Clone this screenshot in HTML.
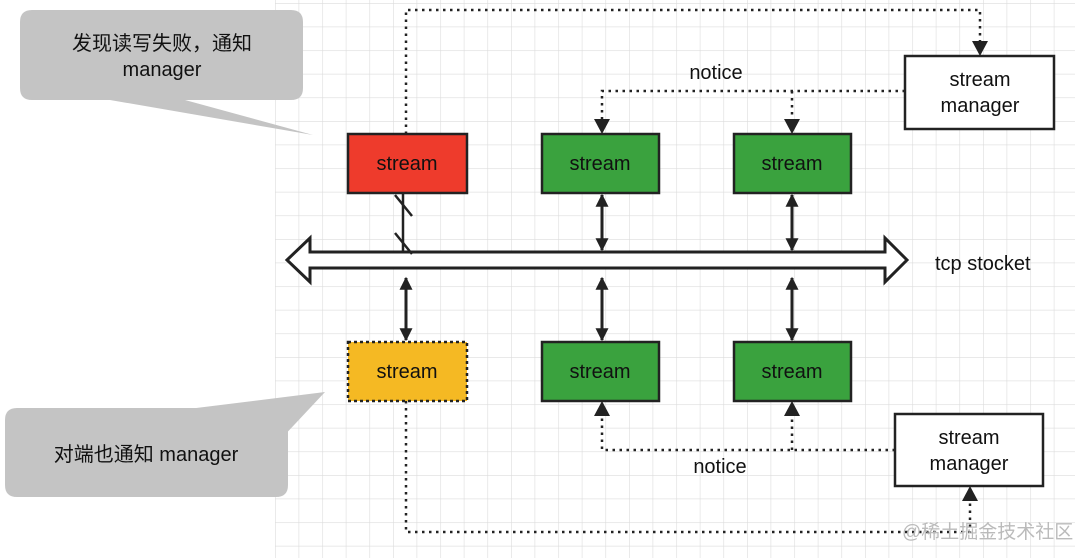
<!DOCTYPE html>
<html><head><meta charset="utf-8"><style>
html,body{margin:0;padding:0;background:#fff;}
svg{display:block}
text{font-family:"Liberation Sans","Noto Sans CJK SC",sans-serif;}
</style></head><body>
<svg width="1080" height="558" viewBox="0 0 1080 558" xmlns="http://www.w3.org/2000/svg">
<defs>
<pattern id="g" x="275" y="3" width="23.6" height="23.6" patternUnits="userSpaceOnUse">
<path d="M0 0H23.6M0 0V23.6" stroke="#dcdcdc" stroke-width="1.2" fill="none"/>
</pattern>
<marker id="a" viewBox="0 0 10 10" refX="9" refY="5" markerWidth="15" markerHeight="13" markerUnits="userSpaceOnUse" orient="auto-start-reverse">
<path d="M0 0L10 5L0 10z" fill="#222"/></marker>
</defs>
<rect x="275" y="0" width="800" height="558" fill="url(#g)"/>

<path d="M32 10H291Q303 10 303 22V88Q303 100 291 100H185L313 135L110 100H32Q20 100 20 88V22Q20 10 32 10Z" fill="#c4c4c4"/>
<text x="162" y="50" font-size="20" text-anchor="middle" fill="#111">发现读写失败，通知</text>
<text x="162" y="76" font-size="20" text-anchor="middle" fill="#111">manager</text>
<path d="M17 408H276Q288 408 288 420V485Q288 497 276 497H17Q5 497 5 485V420Q5 408 17 408ZM180 410L325 392L280 440Z" fill="#c4c4c4"/>
<text x="146" y="461" font-size="20" text-anchor="middle" fill="#111">对端也通知 manager</text>

<g stroke="#222" stroke-width="2.5" fill="none" stroke-dasharray="2.5 4.5">
<path d="M406 134V10H980V50"/>
<path d="M905 91H602V128"/>
<path d="M792 91V128"/>
<path d="M895 450H602V407"/>
<path d="M792 450V407"/>
<path d="M406 401V532H970V492"/>
</g>
<g fill="#222">
<path d="M972 41L988 41L980 56Z"/>
<path d="M594 119L610 119L602 134Z"/>
<path d="M784 119L800 119L792 134Z"/>
<path d="M594 416L610 416L602 401Z"/>
<path d="M784 416L800 416L792 401Z"/>
<path d="M962 501L978 501L970 486Z"/>
</g>

<path d="M287 260L310 238V252H885V238L907 260L885 282V268H310V282Z" fill="#fff" stroke="#222" stroke-width="3" stroke-linejoin="miter"/>
<text x="935" y="270" font-size="20" fill="#111">tcp stocket</text>

<g stroke="#222" stroke-width="3" marker-start="url(#a)" marker-end="url(#a)">
<line x1="602" y1="195" x2="602" y2="250"/>
<line x1="792" y1="195" x2="792" y2="250"/>
<line x1="602" y1="278" x2="602" y2="340"/>
<line x1="792" y1="278" x2="792" y2="340"/>
<line x1="406" y1="278" x2="406" y2="340"/>
</g>
<g stroke="#222" stroke-width="2.5">
<line x1="403" y1="193" x2="403" y2="252"/>
<line x1="395" y1="195" x2="412" y2="216"/>
<line x1="395" y1="233" x2="412" y2="254"/>
</g>

<g stroke="#222" stroke-width="2.5">
<rect x="348" y="134" width="119" height="59" fill="#ee3b2c"/>
<rect x="542" y="134" width="117" height="59" fill="#3aa23e"/>
<rect x="734" y="134" width="117" height="59" fill="#3aa23e"/>
<rect x="542" y="342" width="117" height="59" fill="#3aa23e"/>
<rect x="734" y="342" width="117" height="59" fill="#3aa23e"/>
<rect x="905" y="56" width="149" height="73" fill="#fff"/>
<rect x="895" y="414" width="148" height="72" fill="#fff"/>
</g>
<rect x="348" y="342" width="119" height="59" fill="#f5b923" stroke="#222" stroke-width="2.5" stroke-dasharray="3 3"/>
<g font-size="20" text-anchor="middle" fill="#111">
<text x="407" y="170">stream</text>
<text x="600" y="170">stream</text>
<text x="792" y="170">stream</text>
<text x="407" y="378">stream</text>
<text x="600" y="378">stream</text>
<text x="792" y="378">stream</text>
<text x="980" y="86">stream</text>
<text x="980" y="112">manager</text>
<text x="969" y="444">stream</text>
<text x="969" y="470">manager</text>
<text x="716" y="79">notice</text>
<text x="720" y="473">notice</text>
</g>
<text x="902" y="538" font-size="19" fill="#bbb">@稀土掘金技术社区</text>
</svg>
</body></html>
